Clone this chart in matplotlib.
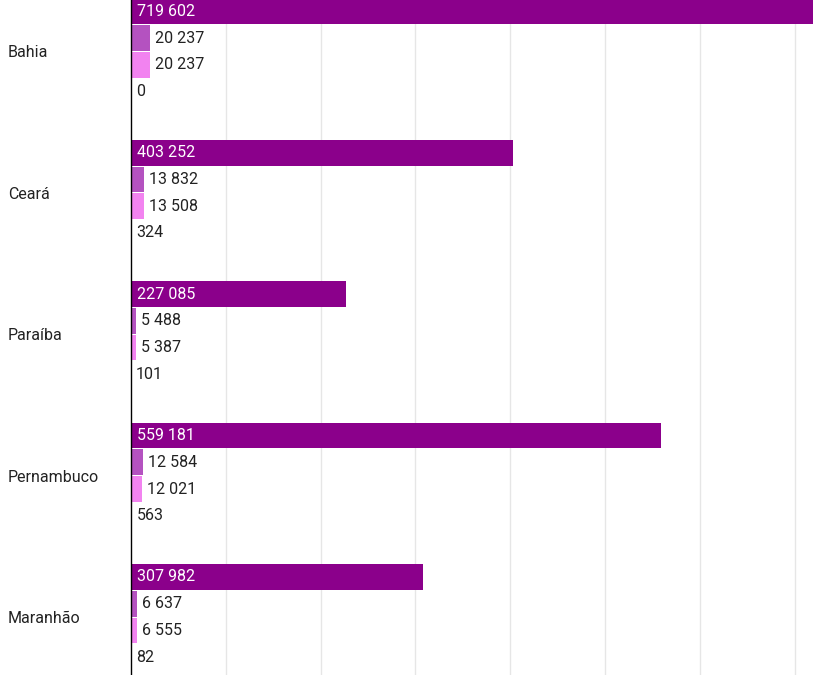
import matplotlib.pyplot as plt
import numpy as np

plt.rcParams['font.family'] = ['Roboto', 'DejaVu Sans']

estados = ['Bahia', 'Ceará', 'Paraíba', 'Pernambuco', 'Maranhão']
total = [719602, 403252, 227085, 559181, 307982]
serie2 = [20237, 13832, 5488, 12584, 6637]
serie3 = [20237, 13508, 5387, 12021, 6555]
serie4 = [0, 324, 101, 563, 82]

cores = ['#8B008B', '#B452C0', '#F283F0', '#FFFFFF']
series = [total, serie2, serie3, serie4]


def fmt(v):
    return '{:,}'.format(v).replace(',', ' ')


fig = plt.figure(figsize=(8.22, 6.75), dpi=100)
ax = fig.add_axes([131 / 822, 0, 1 - 131 / 822, 1])

y = np.arange(len(estados))
passo = 0.189
altura = 0.182
desloc = [-1.5, -0.5, 0.5, 1.5]
fs = 11.5

for k, vals in enumerate(series):
    pos = y + desloc[k] * passo
    ax.barh(pos, vals, height=altura, color=cores[k], zorder=2)
    for p, v in zip(pos, vals):
        if k == 0:
            ax.annotate(fmt(v), (0, p), xytext=(4, 0), textcoords='offset points',
                        va='center', ha='left', color='white', fontsize=fs)
        else:
            ax.annotate(fmt(v), (v, p), xytext=(3.5, 0), textcoords='offset points',
                        va='center', ha='left', color='#222222', fontsize=fs)

ax.set_xlim(0, 729000)
ax.set_ylim(4.41, -0.364)
ax.set_xticks(np.arange(100000, 800000, 100000))
ax.set_xticklabels([])
ax.tick_params(axis='x', length=0)
ax.grid(axis='x', color='#e6e6e6', linewidth=1, zorder=0)

ax.set_yticks(y)
ax.set_yticklabels(estados, fontsize=fs, color='#222222')
ax.tick_params(axis='y', length=0, pad=123 * 0.72)
for lbl in ax.get_yticklabels():
    lbl.set_horizontalalignment('left')

for s in ['top', 'right', 'bottom']:
    ax.spines[s].set_visible(False)
ax.spines['left'].set_color('black')
ax.spines['left'].set_linewidth(1)

fig.savefig('out.png', dpi=100)
